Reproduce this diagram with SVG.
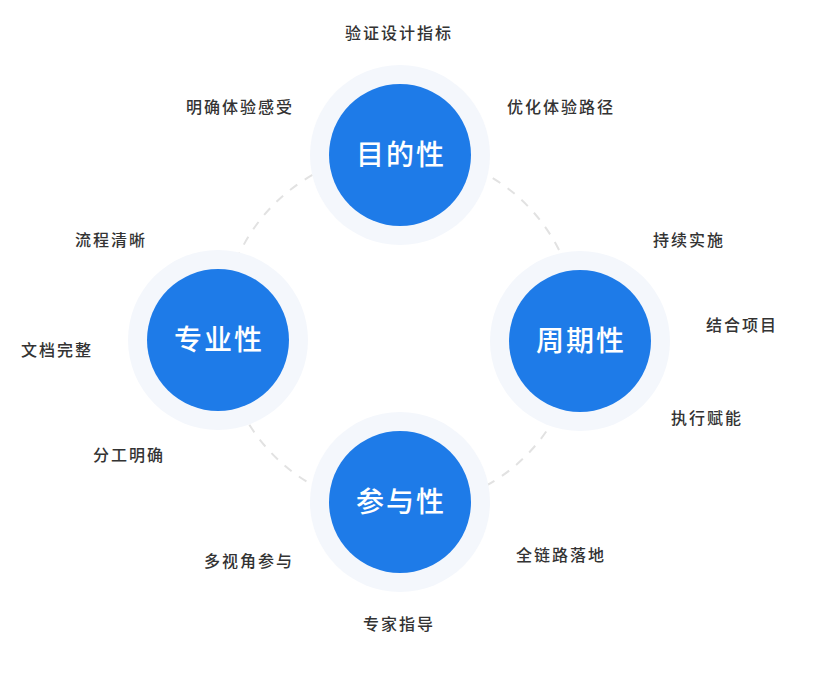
<svg xmlns="http://www.w3.org/2000/svg" width="831" height="683" viewBox="0 0 831 683">
<style>
.halo{fill:#f4f7fc}
.core{fill:#1e7be8}
.nt{font-family:"Noto Sans CJK SC","Noto Sans",sans-serif;font-size:28px;font-weight:500;fill:#fff;text-anchor:middle;letter-spacing:2px}
.lb{font-family:"Noto Sans CJK SC","Noto Sans",sans-serif;font-size:16px;font-weight:500;fill:#333;text-anchor:middle;letter-spacing:2px}
.dash{fill:none;stroke:#e2e2e2;stroke-width:2;stroke-dasharray:9 9}
</style>
<rect width="831" height="683" fill="#fff"/>
<g id="connectors">
<circle class="dash" cx="400" cy="330" r="178"/>
</g>
<g id="node-mudi">
<circle class="halo" cx="400" cy="155" r="90"/>
<circle class="core" cx="400" cy="155" r="71"/>
<text class="nt" x="401" y="165">目的性</text>
</g>
<g id="node-zhuanye">
<circle class="halo" cx="218" cy="340" r="90"/>
<circle class="core" cx="218" cy="340" r="71"/>
<text class="nt" x="219" y="350">专业性</text>
</g>
<g id="node-zhouqi">
<circle class="halo" cx="580" cy="341" r="90"/>
<circle class="core" cx="580" cy="341" r="71"/>
<text class="nt" x="581" y="351">周期性</text>
</g>
<g id="node-canyu">
<circle class="halo" cx="400" cy="502" r="90"/>
<circle class="core" cx="400" cy="502" r="71"/>
<text class="nt" x="401" y="512">参与性</text>
</g>
<g id="labels">
<text class="lb" x="399" y="39">验证设计指标</text>
<text class="lb" x="240" y="113">明确体验感受</text>
<text class="lb" x="561" y="113">优化体验路径</text>
<text class="lb" x="111" y="246">流程清晰</text>
<text class="lb" x="689" y="246">持续实施</text>
<text class="lb" x="57" y="356">文档完整</text>
<text class="lb" x="742" y="331">结合项目</text>
<text class="lb" x="129" y="461">分工明确</text>
<text class="lb" x="707" y="424">执行赋能</text>
<text class="lb" x="249" y="567">多视角参与</text>
<text class="lb" x="561" y="561">全链路落地</text>
<text class="lb" x="399" y="630">专家指导</text>
</g>
</svg>
